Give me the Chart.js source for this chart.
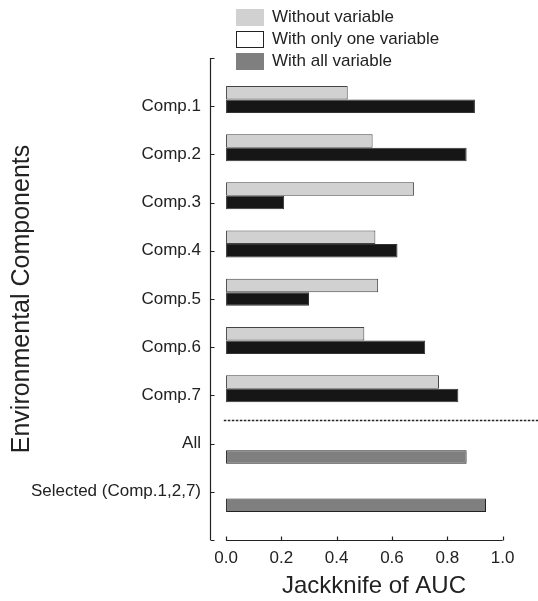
<!DOCTYPE html>
<html>
<head>
<meta charset="utf-8">
<script src="https://cdn.jsdelivr.net/npm/chart.js@4.4.0/dist/chart.umd.min.js"></script>
<style>
  html, body { margin: 0; padding: 0; background: #fff; }
  #wrap { position: relative; width: 538px; height: 601px; }
  #legend { position: absolute; left: 236px; top: 6px; font: 17px "Liberation Sans", Arial, sans-serif; color: #222; }
  #legend .row { display: flex; align-items: center; height: 22px; }
  #legend .box { width: 28px; height: 17px; margin-right: 8px; box-sizing: border-box; }
</style>
</head>
<body>
<div id="wrap">
  <canvas id="chart" width="538" height="601"></canvas>
  <div id="legend"></div>
</div>
<script>
const categories = ['Comp.1', 'Comp.2', 'Comp.3', 'Comp.4', 'Comp.5', 'Comp.6', 'Comp.7', 'All', 'Selected (Comp.1,2,7)'];
const seriesNames = ['Without variable', 'With only one variable', 'With all variable'];
const withoutVariable = [0.44, 0.53, 0.68, 0.54, 0.55, 0.50, 0.77, null, null];
const onlyOneVariable = [0.90, 0.87, 0.21, 0.62, 0.30, 0.72, 0.84, null, null];
const allVariable = [null, null, null, null, null, null, null, 0.87, 0.94];
const xTicks = [0, 0.2, 0.4, 0.6, 0.8, 1.0];

const FONT = '"Liberation Sans", Arial, sans-serif';
const INK = '#222';

// empty slot above and below so the axis runs one step past the first/last category
const pad = arr => [null, ...arr, null];
const yLabels = ['', ...categories, ''];

const axisLines = {
  id: 'axisLines',
  afterDraw(chart) {
    const { ctx, chartArea, scales: { x, y } } = chart;
    const left = Math.round(chartArea.left) + 0.5;
    const bottom = Math.round(chartArea.bottom) + 0.5;
    ctx.save();
    ctx.strokeStyle = INK;
    ctx.lineWidth = 1.2;
    ctx.beginPath();
    ctx.moveTo(left, y.getPixelForValue(0));
    ctx.lineTo(left, y.getPixelForValue(yLabels.length - 1));
    yLabels.forEach((l, i) => {
      const py = Math.round(y.getPixelForValue(i)) + 0.5;
      ctx.moveTo(left, py);
      ctx.lineTo(left + 4, py);
    });
    ctx.moveTo(x.getPixelForValue(0), bottom);
    ctx.lineTo(x.getPixelForValue(1), bottom);
    xTicks.forEach(v => {
      const px = Math.round(x.getPixelForValue(v)) + 0.5;
      ctx.moveTo(px, bottom);
      ctx.lineTo(px, bottom - 4);
    });
    ctx.stroke();

    // dotted separator between the components and the combined rows
    const sepY = Math.round(y.getPixelForValue(7.5)) + 0.5;
    ctx.setLineDash([2.5, 1.5]);
    ctx.lineWidth = 1.3;
    ctx.beginPath();
    ctx.moveTo(x.getPixelForValue(-0.008), sepY);
    ctx.lineTo(chartArea.right, sepY);
    ctx.stroke();
    ctx.restore();
  }
};

const ctx = document.getElementById('chart').getContext('2d');
const chart = new Chart(ctx, {
  type: 'bar',
  data: {
    labels: yLabels,
    datasets: [
      { label: seriesNames[0], data: pad(withoutVariable), backgroundColor: '#d1d1d1', borderColor: '#444' },
      { label: seriesNames[1], data: pad(onlyOneVariable), backgroundColor: '#161616', borderColor: '#333' },
      { label: seriesNames[2], data: pad(allVariable), backgroundColor: '#7f7f7f', borderColor: '#222' }
    ]
  },
  options: {
    indexAxis: 'y',
    responsive: false,
    animation: false,
    layout: { padding: { top: 58, right: 0, bottom: 0, left: 0 } },
    datasets: {
      bar: { borderWidth: 1, borderSkipped: false, barPercentage: 1, categoryPercentage: 0.84 }
    },
    plugins: {
      legend: { display: false },
      tooltip: { enabled: false }
    },
    scales: {
      x: {
        type: 'linear',
        min: -0.058,
        max: 1.128,
        grid: { display: false, drawTicks: false },
        border: { display: false },
        afterBuildTicks: s => { s.ticks = xTicks.map(v => ({ value: v })); },
        afterFit: s => { s.height = 61; },
        ticks: {
          font: { family: FONT, size: 17 },
          color: INK,
          padding: 8,
          maxRotation: 0,
          callback: v => v.toFixed(1)
        },
        title: {
          display: true,
          text: 'Jackknife of AUC',
          font: { family: FONT, size: 24 },
          color: INK,
          padding: { top: 0, bottom: 0 }
        }
      },
      y: {
        type: 'category',
        offset: false,
        grid: { display: false, drawTicks: false },
        border: { display: false },
        afterFit: s => { s.width = 210; },
        ticks: {
          font: { family: FONT, size: 17 },
          color: INK,
          padding: 9,
          autoSkip: false
        },
        title: {
          display: true,
          text: 'Environmental Components',
          font: { family: FONT, size: 25 },
          color: INK,
          padding: { top: 7, bottom: 0 }
        }
      }
    }
  },
  plugins: [axisLines]
});

// legend swatches as in the figure (the second one is drawn hollow there)
const swatches = [
  { fill: '#d1d1d1', border: 'none' },
  { fill: '#ffffff', border: '1px solid #222' },
  { fill: '#7f7f7f', border: 'none' }
];
const legend = document.getElementById('legend');
chart.data.datasets.forEach((ds, i) => {
  const row = document.createElement('div');
  row.className = 'row';
  const box = document.createElement('span');
  box.className = 'box';
  box.style.background = swatches[i].fill;
  box.style.border = swatches[i].border;
  const txt = document.createElement('span');
  txt.textContent = ds.label;
  row.appendChild(box);
  row.appendChild(txt);
  legend.appendChild(row);
});
</script>
</body>
</html>
